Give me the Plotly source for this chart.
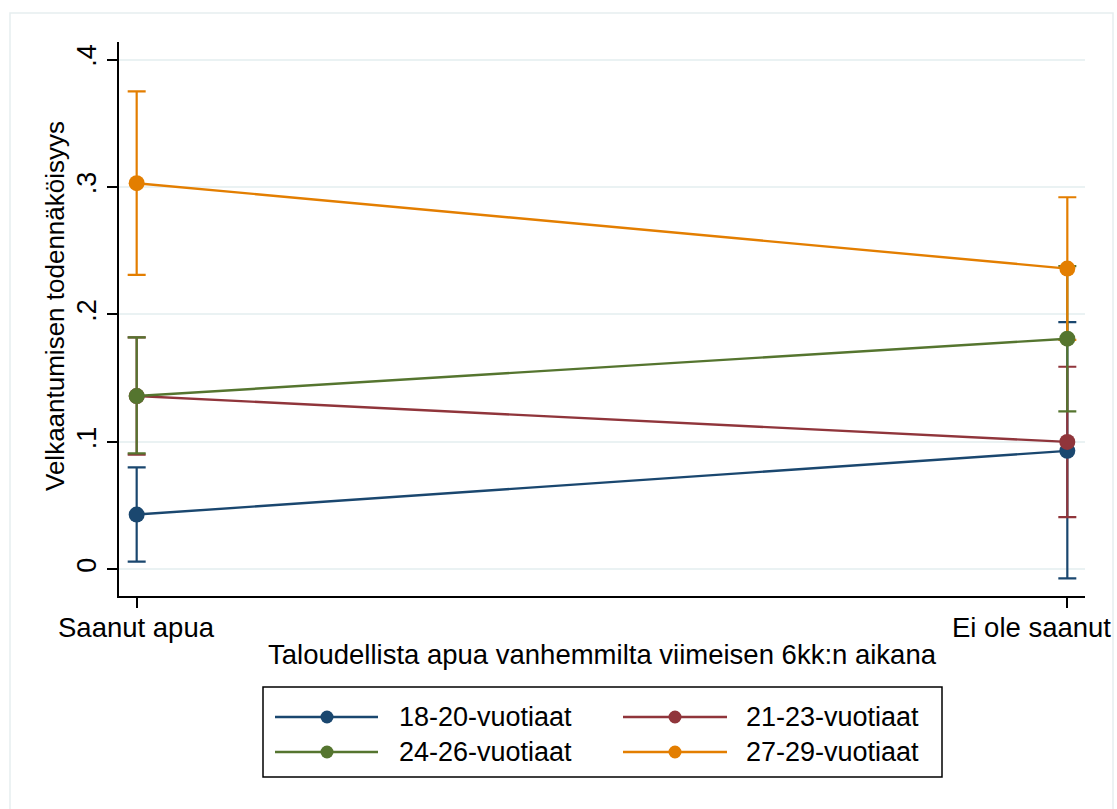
import plotly.graph_objects as go

# Predicted probability of indebtedness with 95% confidence intervals
categories = ["Saanut apua", "Ei ole saanut"]
groups = ["18-20-vuotiaat", "21-23-vuotiaat", "24-26-vuotiaat", "27-29-vuotiaat"]
colors = ["#1a476f", "#90353b", "#55752f", "#e37e00"]

prob_18_20 = [0.043, 0.093]
prob_21_23 = [0.136, 0.100]
prob_24_26 = [0.136, 0.181]
prob_27_29 = [0.303, 0.236]

ci_low_18_20 = [0.006, -0.007]
ci_low_21_23 = [0.090, 0.041]
ci_low_24_26 = [0.091, 0.124]
ci_low_27_29 = [0.231, 0.180]

ci_high_18_20 = [0.080, 0.194]
ci_high_21_23 = [0.182, 0.159]
ci_high_24_26 = [0.182, 0.238]
ci_high_27_29 = [0.375, 0.292]

probs = [prob_18_20, prob_21_23, prob_24_26, prob_27_29]
ci_low = [ci_low_18_20, ci_low_21_23, ci_low_24_26, ci_low_27_29]
ci_high = [ci_high_18_20, ci_high_21_23, ci_high_24_26, ci_high_27_29]

y_ticks = [0, 0.1, 0.2, 0.3, 0.4]
y_ticklabels = ["0", ".1", ".2", ".3", ".4"]

FONT = "Liberation Sans, Arial, Helvetica, sans-serif"
W, H = 1117, 809
ML, MR, MT, MB = 119, 32, 42, 213
PW, PH = W - ML - MR, H - MT - MB


def px_x(x):
    return (x - ML) / PW


def px_y(y):
    return (H - MB - y) / PH


fig = go.Figure()

# confidence intervals first, so the connected lines sit on top
for name, col, p, lo, hi in zip(groups, colors, probs, ci_low, ci_high):
    fig.add_trace(go.Scatter(
        x=categories, y=p, mode="markers",
        marker=dict(size=1, color="rgba(0,0,0,0)"),
        error_y=dict(type="data", symmetric=False,
                     array=[h - v for h, v in zip(hi, p)],
                     arrayminus=[v - l for v, l in zip(p, lo)],
                     color=col, thickness=2.2, width=9),
        showlegend=False, hoverinfo="skip",
    ))

for name, col, p in zip(groups, colors, probs):
    fig.add_trace(go.Scatter(
        x=categories, y=p, mode="lines+markers", name=name,
        line=dict(color=col, width=2.4),
        marker=dict(color=col, size=16),
        showlegend=False,
    ))

shapes = []
annotations = []

# outer frame of the graph region
shapes.append(dict(type="rect", xref="paper", yref="paper",
                   x0=px_x(10), x1=px_x(1113), y0=px_y(812), y1=px_y(13),
                   line=dict(color="#e6eef0", width=1.5), layer="below"))

# category labels under the x axis; the last one is kept inside the frame
for i, cat in enumerate(categories):
    last = i == len(categories) - 1
    annotations.append(dict(xref="x", yref="paper", x=cat, y=px_y(627),
                            text=cat, showarrow=False,
                            xanchor="right" if last else "center",
                            xshift=46 if last else 0, yanchor="middle",
                            font=dict(family=FONT, size=27.5, color="black")))

# y axis title
annotations.append(dict(xref="paper", yref="paper", x=px_x(55), y=px_y(306),
                        text="Velkaantumisen todennäköisyys", textangle=-90,
                        showarrow=False, xanchor="center", yanchor="middle",
                        font=dict(family=FONT, size=26, color="black")))

# legend box
shapes.append(dict(type="rect", xref="paper", yref="paper",
                   x0=px_x(263), x1=px_x(942), y0=px_y(777), y1=px_y(687),
                   line=dict(color="black", width=1.5)))

legend_cols = [(275, 378, 327, 397), (623, 727, 675, 744)]
legend_rows = [717, 752]
for i, (name, col) in enumerate(zip(groups, colors)):
    lx0, lx1, mx, tx = legend_cols[i % 2]
    ly = legend_rows[i // 2]
    shapes.append(dict(type="line", xref="paper", yref="paper",
                       x0=px_x(lx0), x1=px_x(lx1), y0=px_y(ly), y1=px_y(ly),
                       line=dict(color=col, width=2.5)))
    shapes.append(dict(type="circle", xref="paper", yref="paper",
                       xsizemode="pixel", ysizemode="pixel",
                       xanchor=px_x(mx), yanchor=px_y(ly),
                       x0=-6.5, x1=6.5, y0=-6.5, y1=6.5,
                       fillcolor=col, line=dict(color=col, width=0)))
    annotations.append(dict(xref="paper", yref="paper", x=px_x(tx), y=px_y(ly),
                            text=name, showarrow=False, xanchor="left",
                            yanchor="middle",
                            font=dict(family=FONT, size=27, color="black")))

fig.update_layout(
    width=W, height=H,
    margin=dict(l=ML, r=MR, t=MT, b=MB, autoexpand=False),
    paper_bgcolor="white", plot_bgcolor="white",
    font=dict(family=FONT, color="black", size=27),
    shapes=shapes, annotations=annotations,
    showlegend=False,
    xaxis=dict(
        type="category", categoryorder="array", categoryarray=categories,
        range=[-0.019, 1.019], automargin=False, showticklabels=False,
        showline=True, linecolor="black", linewidth=1.5,
        ticks="outside", ticklen=10, tickwidth=1.5, tickcolor="black",
        showgrid=False, zeroline=False,
        title=dict(text="Taloudellista apua vanhemmilta viimeisen 6kk:n aikana",
                   font=dict(family=FONT, size=27.5), standoff=38),
    ),
    yaxis=dict(
        range=[-0.0209, 0.4138], automargin=False,
        tickvals=y_ticks, ticktext=y_ticklabels, tickangle=-90,
        showline=True, linecolor="black", linewidth=1.5,
        ticks="outside", ticklen=10, tickwidth=1.5, tickcolor="black",
        showgrid=True, gridcolor="#eaf2f3", gridwidth=2,
        zeroline=False,
        tickfont=dict(family=FONT, size=27),
    ),
)

fig.write_html("out.html")
